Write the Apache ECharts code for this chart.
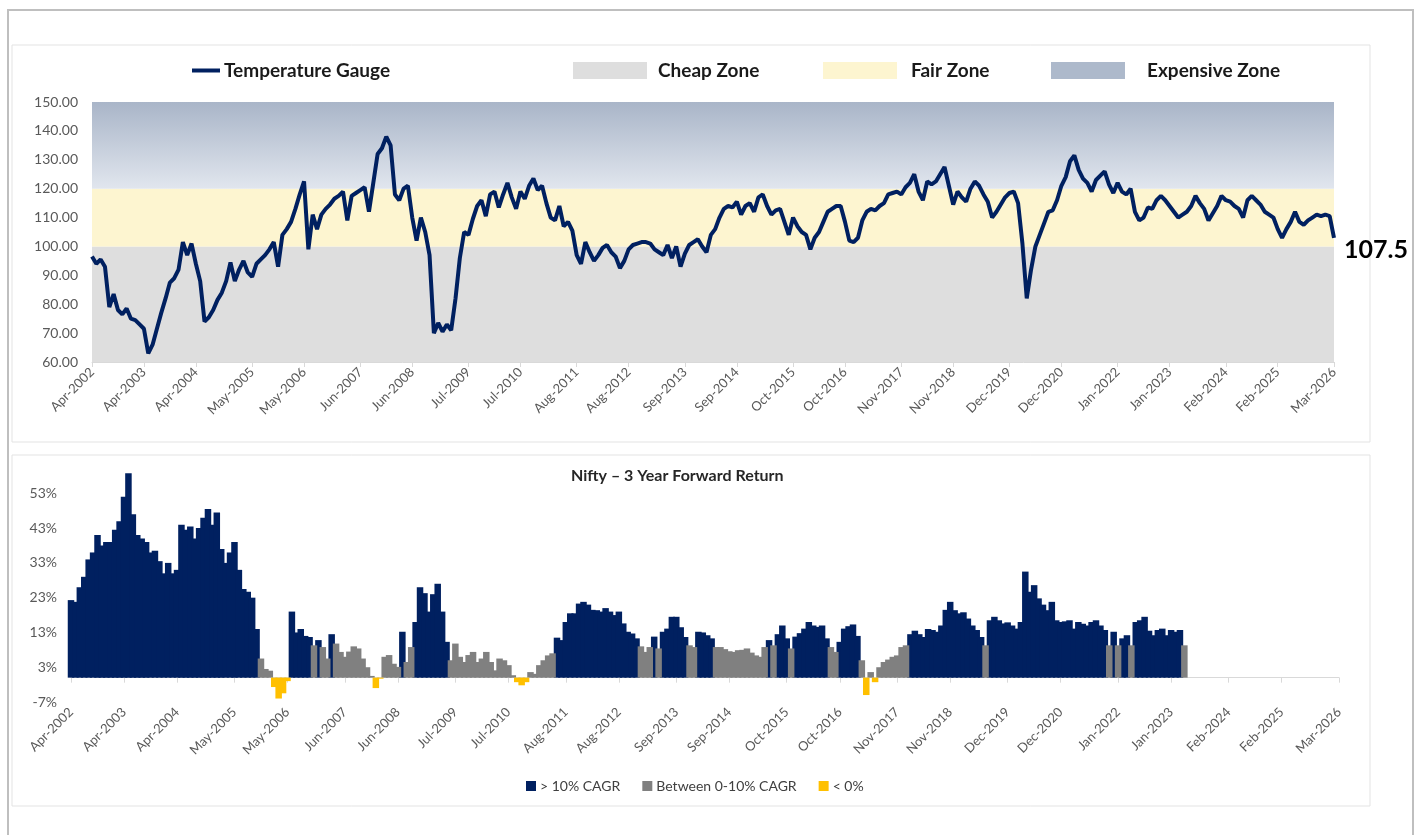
<!DOCTYPE html>
<html>
<head>
<meta charset="utf-8">
<title>Temperature Gauge and Nifty 3 Year Forward Return</title>
<script src="https://cdn.jsdelivr.net/npm/echarts@6/dist/echarts.min.js"></script>
<style>
  html, body { margin: 0; padding: 0; background: #fff; }
  #chart { width: 1419px; height: 835px; }
</style>
</head>
<body>
<div id="chart"></div>
<script>
// labels printed on both x axes
const tickLabels = ['Apr-2002', 'Apr-2003', 'Apr-2004', 'May-2005', 'May-2006', 'Jun-2007', 'Jun-2008',
  'Jul-2009', 'Jul-2010', 'Aug-2011', 'Aug-2012', 'Sep-2013', 'Sep-2014', 'Oct-2015', 'Oct-2016',
  'Nov-2017', 'Nov-2018', 'Dec-2019', 'Dec-2020', 'Jan-2022', 'Jan-2023', 'Feb-2024', 'Feb-2025', 'Mar-2026']

// temperature gauge, monthly from Apr-2002 (one row = 12 months)
const gauge = [
  96.5, 94, 95.5, 93, 79, 83.5, 78, 76.5, 78.5, 75, 74.5, 73,
  71.5, 63, 66, 71.5, 77, 82, 87.5, 89, 92, 101.5, 97, 101,
  94, 88, 74, 75.5, 78, 81.5, 84, 88, 94.5, 88, 92, 95,
  91, 89.5, 94, 95.5, 97, 99, 101.5, 93, 104, 106, 108.5, 113,
  118, 122.5, 99, 111, 106, 111, 113, 114.5, 116.5, 117.5, 119, 109,
  117.5, 118.5, 119.5, 120.5, 112, 122, 132, 134, 138, 135, 118, 116,
  120, 121, 110, 102, 110, 105, 97, 70, 73.5, 70.5, 73, 71,
  82, 96, 105, 104, 109.5, 114, 116, 110.5, 118, 119, 113.5, 118,
  122, 117, 113, 119, 116.5, 121, 123.5, 119.5, 121, 115, 110, 109,
  114, 107, 108.5, 105.5, 97, 94, 101.5, 98, 95, 97, 99.5, 100.5,
  98, 96.5, 92.5, 95, 99, 100.5, 101, 101.5, 101.5, 101, 99, 98,
  97, 100.5, 96, 100, 93, 97.5, 100.5, 101.5, 102.5, 100, 98, 104,
  106, 110, 113, 114, 113.5, 115.5, 111, 114, 115, 112, 117, 118,
  114, 111, 112.5, 113, 108.5, 104, 110, 107, 105, 104, 99, 103,
  105, 108.5, 112, 113, 114, 114, 108.5, 102, 101.5, 103, 109, 112,
  113, 112.5, 114, 115, 118, 118.5, 119, 118, 120.5, 122, 125, 119,
  116, 122.5, 121.5, 122.5, 125, 127.5, 121, 114.5, 119, 117, 115.5, 120,
  122.5, 121, 118, 115.5, 110, 112, 114.5, 117, 118.5, 119, 115, 101,
  82, 92, 100, 104, 108, 112, 112.5, 116, 121, 124, 129.5, 131.5,
  126.5, 123.5, 122, 119, 123, 124.5, 126, 121.5, 118.5, 122, 119, 118,
  120, 112, 109, 110, 113.5, 113, 116, 117.5, 116, 114, 112, 110,
  111, 112, 114, 117.5, 115, 113, 109, 111.5, 114, 117.5, 116, 115.5,
  114, 113, 110, 116, 117.5, 116, 114.5, 112, 111, 110, 106, 103,
  106, 108.5, 112, 108.5, 107.5, 109, 110, 111, 110.5, 111, 110.5, 103
]
const latestReading = 107.5

// zones of the gauge
const zoneNames = ['Cheap Zone', 'Fair Zone', 'Expensive Zone']
const zoneLow = [60, 100, 120]
const zoneHigh = [100, 120, 150]

// Nifty 3 year forward return (% CAGR), monthly from Apr-2002
const fwdReturn = [
  22.3, 21.8, 26, 29, 34, 36, 41, 38, 39, 39, 42.5, 45,
  52, 58.8, 47, 41, 40, 39, 36, 36.5, 33.5, 30, 33, 30,
  31, 44, 42.5, 43.5, 40, 43, 46, 48.5, 44, 47.5, 37, 33,
  36, 39, 31, 25.5, 24.7, 23, 14, 5.5, 2.5, 2, -2.7, -6,
  -4.5, -1, 19, 13, 14, 12, 11.7, 9.3, 10.8, 8.8, 5.5, 12.5,
  9.8, 7.4, 6, 7.5, 9, 8.4, 5.5, 3, 0.5, -3, -0.3, 6,
  6.5, 4, 3.1, 13.2, 4.5, 8.8, 16, 26, 24.3, 19, 24, 27,
  19, 10.3, 5, 9.8, 6, 4.5, 6.5, 7.4, 4.5, 5.5, 7.4, 4.5,
  2.1, 5.5, 5, 3.6, 0.7, -1.3, -2.2, -1.3, 1.6, 1.1, 3.6, 5,
  6.4, 7, 11.5, 10.8, 16, 18.5, 18.5, 21.3, 21.8, 21, 19.5, 19.4,
  19, 20, 19, 18, 19, 15.6, 13.2, 12.7, 11.3, 9, 7.4, 8.8,
  11.8, 8.4, 13.2, 14.1, 17.5, 17.5, 14.5, 11.7, 9.3, 8.8, 13.2, 13,
  12.2, 11.3, 8.8, 8.8, 8.2, 7.6, 7.4, 7.9, 8, 8.4, 7.2, 6.4,
  6, 8.8, 10.8, 9.3, 12.5, 15, 11.3, 8.4, 11.8, 12.8, 14.1, 16,
  15, 14.6, 15, 11.3, 8.8, 7.4, 10.3, 14.1, 14.8, 15.3, 12, 5,
  -5, 1.6, -1.3, 3, 4.5, 5.2, 6, 6.4, 8.8, 9.3, 12.5, 13.5,
  12.5, 11.7, 14, 13.7, 13.2, 15, 19.5, 21.8, 19.4, 18.5, 18.8, 17,
  15, 13.7, 11.7, 9.3, 16.5, 17.5, 16.5, 15.6, 15.9, 15, 14.1, 16,
  30.5, 24.7, 26.6, 22.8, 21, 19.4, 21.8, 16.5, 16, 16.2, 16.5, 14.1,
  16, 15.5, 15, 16, 16.5, 15, 13.7, 9.3, 13.2, 9.3, 11.3, 12.2,
  9.3, 16, 16.5, 17.5, 13.5, 12.2, 13.7, 14.1, 12.2, 13.7, 13.2, 13.7,
  9.3
]
const returnTicks = [-7, 3, 13, 23, 33, 43, 53]

// month categories Apr-2002 .. Mar-2026
const monthNames = ['Jan', 'Feb', 'Mar', 'Apr', 'May', 'Jun', 'Jul', 'Aug', 'Sep', 'Oct', 'Nov', 'Dec']
const months = gauge.map((_, i) => monthNames[(i + 3) % 12] + '-' + (2002 + Math.floor((i + 3) / 12)))

// split returns into the three colour buckets
const above10 = fwdReturn.map(v => v > 10 ? v : null)
const between = fwdReturn.map(v => v >= 0 && v <= 10 ? v : null)
const below0 = fwdReturn.map(v => v < 0 ? v : null)

const FONT = 'Lato, "Open Sans", sans-serif'
const NAVY = '#002060'
const zoneSwatch = ['#dedede', '#fdf5d0', '#adb9cb']
const zoneFill = ['#dedede', '#fdf5d0', {
  type: 'linear', x: 0, y: 0, x2: 0, y2: 1,
  colorStops: [{ offset: 0, color: '#a9b5c8' }, { offset: 1, color: '#e1e6ee' }]
}]

const showTick = (i, v) => tickLabels.includes(v)

const xAxisFor = gridIndex => ({
  type: 'category',
  gridIndex,
  data: months,
  boundaryGap: false,
  axisLine: { lineStyle: { color: '#d9d9d9' } },
  axisTick: { interval: showTick, length: 5, lineStyle: { color: '#d9d9d9' } },
  axisLabel: { interval: showTick, rotate: 45, fontSize: 13, color: '#595959', fontFamily: FONT, margin: 8 },
  splitLine: { show: false }
})

const legendText = { fontSize: 19, fontWeight: 'bold', color: '#1a1a1a', fontFamily: FONT }
// legend boxes sit 5px inside their left value (default padding)
const zoneLegendLeft = [568, 818, 1046]
const zoneTextPad = [6, 9, 17]

const chart = echarts.init(document.getElementById('chart'))

chart.setOption({
  animation: false,
  backgroundColor: '#fff',
  textStyle: { fontFamily: FONT },
  graphic: [
    { type: 'rect', silent: true, shape: { x: 8, y: 10, width: 1405, height: 840 },
      style: { fill: 'none', stroke: '#bfbfbf', lineWidth: 2 } },
    { type: 'rect', silent: true, shape: { x: 12, y: 45, width: 1358, height: 397 },
      style: { fill: 'none', stroke: '#e3e3e3', lineWidth: 1 } },
    { type: 'rect', silent: true, shape: { x: 12, y: 455, width: 1358, height: 351 },
      style: { fill: 'none', stroke: '#e3e3e3', lineWidth: 1 } }
  ],
  title: {
    text: 'Nifty – 3 Year Forward Return',
    left: 571,
    top: 468,
    padding: 0,
    textStyle: { fontSize: 16, fontWeight: 'bold', color: '#262626', fontFamily: FONT }
  },
  legend: [
    { data: [{ name: 'Temperature Gauge', icon: 'rect' }], left: 187, top: 56,
      itemWidth: 28, itemHeight: 4, selectedMode: false, textStyle: { ...legendText, padding: [0, 0, 0, -1] } },
    ...zoneNames.map((name, i) => ({
      data: [{ name, icon: 'rect' }], left: zoneLegendLeft[i], top: 56,
      itemWidth: 74, itemHeight: 17, selectedMode: false, textStyle: { ...legendText, padding: [0, 0, 0, zoneTextPad[i]] }
    })),
    { data: ['> 10% CAGR', 'Between 0-10% CAGR', '< 0%'], left: 521, top: 774, icon: 'rect',
      itemWidth: 10, itemHeight: 10, itemGap: 22, selectedMode: false,
      textStyle: { fontSize: 14, color: '#404040', fontFamily: FONT, padding: [0, 0, 0, -1] } }
  ],
  grid: [
    { left: 92, right: 85, top: 102, height: 260 },
    { left: 71, right: 80, top: 469, height: 233 }
  ],
  xAxis: [xAxisFor(0), xAxisFor(1)],
  yAxis: [
    {
      type: 'value', gridIndex: 0, min: 60, max: 150, interval: 10,
      axisLine: { show: false }, axisTick: { show: false }, splitLine: { show: false },
      axisLabel: { formatter: v => v.toFixed(2), fontSize: 14, color: '#595959', fontFamily: FONT, margin: 14 }
    },
    {
      type: 'value', gridIndex: 1, min: -7, max: 60,
      axisLine: { show: false }, axisTick: { show: false }, splitLine: { show: false },
      axisLabel: { customValues: returnTicks, formatter: v => v + '%', fontSize: 14, color: '#595959', fontFamily: FONT, margin: 14 }
    }
  ],
  series: [
    ...zoneNames.map((name, i) => ({
      name,
      type: 'line',
      xAxisIndex: 0,
      yAxisIndex: 0,
      data: [],
      color: zoneSwatch[i],
      silent: true,
      z: 1,
      markArea: {
        silent: true,
        itemStyle: { color: zoneFill[i] },
        data: [[{ yAxis: zoneLow[i] }, { yAxis: zoneHigh[i] }]]
      }
    })),
    {
      name: 'Temperature Gauge',
      type: 'line',
      xAxisIndex: 0,
      yAxisIndex: 0,
      data: gauge,
      symbol: 'none',
      color: NAVY,
      lineStyle: { width: 4, color: NAVY },
      z: 5,
      endLabel: {
        show: true,
        formatter: () => latestReading.toFixed(1),
        fontSize: 25,
        fontWeight: 'bold',
        color: '#000',
        fontFamily: FONT,
        offset: [2, 12]
      }
    },
    { name: '> 10% CAGR', type: 'bar', xAxisIndex: 1, yAxisIndex: 1, data: above10, color: NAVY, barWidth: 6.5, barGap: '-100%' },
    { name: 'Between 0-10% CAGR', type: 'bar', xAxisIndex: 1, yAxisIndex: 1, data: between, color: '#808080', barWidth: 6.5, barGap: '-100%' },
    { name: '< 0%', type: 'bar', xAxisIndex: 1, yAxisIndex: 1, data: below0, color: '#ffc000', barWidth: 6.5, barGap: '-100%' }
  ]
})
</script>
</body>
</html>
